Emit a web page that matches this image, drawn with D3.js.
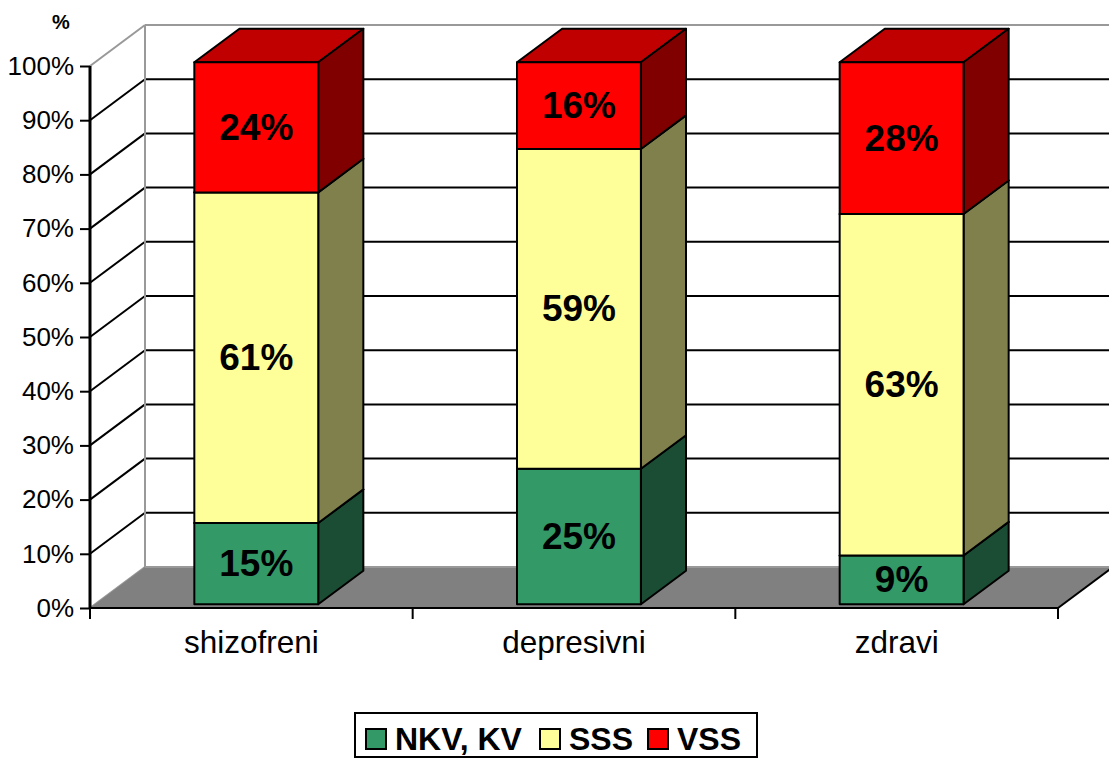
<!DOCTYPE html>
<html>
<head>
<meta charset="utf-8">
<script src="https://cdn.jsdelivr.net/npm/d3@7"></script>
<style>
  html, body { margin: 0; padding: 0; background: #ffffff; }
  svg { display: block; }
  text { font-family: "Liberation Sans", Arial, sans-serif; }
</style>
</head>
<body>
<svg id="chart" width="1109" height="762"></svg>
<script>
// ---- data ----
const categories = ["shizofreni", "depresivni", "zdravi"];
const seriesNames = ["NKV, KV", "SSS", "VSS"];
const nkvKv = [15, 25, 9];
const sss = [61, 59, 63];
const vss = [24, 16, 28];
const yTicks = [0, 10, 20, 30, 40, 50, 60, 70, 80, 90, 100];
const yTitle = "%";

// ---- styles ----
const frontColors = ["#339966", "#ffff99", "#ff0000"];
const sideColors  = ["#1a4d33", "#80804d", "#800000"];
const topColors   = ["#267350", "#bfbf73", "#c00000"];

const svg = d3.select("#chart");

// 3D geometry
const depthX = 55, depthY = -41;          // full depth of the chart box
const barZ0 = 0.09, barZ1 = 0.91;          // bar position within depth

const x = d3.scaleBand().domain(categories).range([90, 1058])
  .paddingInner(0.616).paddingOuter(0.308);
const y = d3.scaleLinear().domain([0, 100]).range([608, 66]);

const xLeft = 90, xRight = 1058;

// back wall
svg.append("rect")
  .attr("x", xLeft + depthX).attr("y", y(100) + depthY)
  .attr("width", xRight - xLeft).attr("height", y(0) - y(100))
  .attr("fill", "#ffffff");

// gridlines (side wall diagonals + back wall horizontals)
yTicks.forEach(t => {
  const isEdge = (t === 0 || t === 100);
  const col = isEdge ? "#999999" : "#000000";
  if (t !== 0) {
    svg.append("line")
      .attr("x1", xLeft + depthX).attr("x2", xRight + depthX)
      .attr("y1", y(t) + depthY).attr("y2", y(t) + depthY)
      .attr("stroke", col).attr("stroke-width", 2);
  }
  svg.append("line")
    .attr("x1", xLeft).attr("y1", y(t))
    .attr("x2", xLeft + depthX).attr("y2", y(t) + depthY)
    .attr("stroke", col).attr("stroke-width", 2);
});
// back wall left edge
svg.append("line")
  .attr("x1", xLeft + depthX).attr("x2", xLeft + depthX)
  .attr("y1", y(100) + depthY).attr("y2", y(0) + depthY)
  .attr("stroke", "#999999").attr("stroke-width", 2);

// floor
const floorPts = [[xLeft, y(0)], [xRight, y(0)], [xRight + depthX, y(0) + depthY], [xLeft + depthX, y(0) + depthY]];
svg.append("polygon")
  .attr("points", floorPts.map(p => p.join(",")).join(" "))
  .attr("fill", "#808080");
svg.append("line")
  .attr("x1", xLeft + depthX).attr("y1", y(0) + depthY)
  .attr("x2", xRight + depthX).attr("y2", y(0) + depthY)
  .attr("stroke", "#999999").attr("stroke-width", 2);
svg.append("line")
  .attr("x1", xRight).attr("y1", y(0))
  .attr("x2", xRight + depthX).attr("y2", y(0) + depthY)
  .attr("stroke", "#000000").attr("stroke-width", 2);

// bars
const series = [nkvKv, sss, vss];
const bw = x.bandwidth();
const ddx = depthX * (barZ1 - barZ0), ddy = depthY * (barZ1 - barZ0);
const ox = depthX * barZ0, oy = depthY * barZ0;
const barsG = svg.append("g");
const labelsG = svg.append("g");

categories.forEach((cat, i) => {
  let cum = 0;
  series.forEach((vals, s) => {
    const v0 = cum, v1 = cum + vals[i];
    cum = v1;
    const x0 = x(cat) + ox, x1 = x0 + bw;
    const yb = y(v0) + oy, yt = y(v1) + oy;
    const g = barsG.append("g")
      .attr("stroke", "#000000").attr("stroke-width", 2).attr("stroke-linejoin", "round");
    g.append("polygon")
      .attr("points", [[x0, yt], [x1, yt], [x1 + ddx, yt + ddy], [x0 + ddx, yt + ddy]].map(p => p.join(",")).join(" "))
      .attr("fill", topColors[s]);
    g.append("polygon")
      .attr("points", [[x1, yb], [x1 + ddx, yb + ddy], [x1 + ddx, yt + ddy], [x1, yt]].map(p => p.join(",")).join(" "))
      .attr("fill", sideColors[s]);
    g.append("rect")
      .attr("x", x0).attr("y", yt).attr("width", bw).attr("height", yb - yt)
      .attr("fill", frontColors[s]);
    labelsG.append("text")
      .attr("x", x0 + bw / 2).attr("y", (yt + yb) / 2)
      .attr("text-anchor", "middle").attr("dominant-baseline", "central")
      .attr("font-size", 37).attr("font-weight", "bold").attr("fill", "#000000")
      .text(vals[i] + "%");
  });
});

// y axis
const yAxisG = svg.append("g").attr("transform", `translate(${xLeft},0)`)
  .call(d3.axisLeft(y).tickValues(yTicks).tickFormat(d => d + "%").tickSize(10).tickPadding(6));
yAxisG.select(".domain").attr("stroke", "#000").attr("stroke-width", 3).attr("d", `M0,${y(100)}V${y(0)}`);
yAxisG.selectAll(".tick line").attr("stroke", "#000").attr("stroke-width", 2);
yAxisG.selectAll(".tick text").attr("font-size", 26).attr("fill", "#000")
  .attr("font-family", "Liberation Sans, Arial, sans-serif");

// x axis
const xAxisG = svg.append("g").attr("transform", `translate(0,${y(0)})`)
  .call(d3.axisBottom(x).tickSize(0).tickPadding(21));
xAxisG.select(".domain").attr("stroke", "#000").attr("stroke-width", 2).attr("d", `M${xLeft},0H${xRight}`);
xAxisG.selectAll(".tick text").attr("font-size", 31.5).attr("fill", "#000")
  .attr("font-family", "Liberation Sans, Arial, sans-serif")
  .attr("dy", "0.75em");
// category separator ticks
const sepPos = [xLeft].concat(categories.map(c => x(c) + bw + x.step() * x.paddingInner() / 2));
sepPos[sepPos.length - 1] = xRight;
sepPos.forEach(px => {
  svg.append("line").attr("x1", px).attr("x2", px).attr("y1", y(0)).attr("y2", y(0) + 11)
    .attr("stroke", "#000").attr("stroke-width", 2);
});

// axis title
svg.append("text").attr("x", 61).attr("y", 29).attr("text-anchor", "middle")
  .attr("font-size", 20).attr("font-weight", "bold").text(yTitle);

// legend
const lg = svg.append("g");
lg.append("rect").attr("x", 355).attr("y", 713).attr("width", 402).attr("height", 44)
  .attr("fill", "#ffffff").attr("stroke", "#000").attr("stroke-width", 2);
const legendX = [366, 540, 648];
seriesNames.forEach((name, s) => {
  lg.append("rect").attr("x", legendX[s]).attr("y", 729).attr("width", 20).attr("height", 20)
    .attr("fill", frontColors[s]).attr("stroke", "#000").attr("stroke-width", 2);
  lg.append("text").attr("x", legendX[s] + 29).attr("y", 750)
    .attr("font-size", 32).attr("font-weight", "bold").text(name);
});
</script>
</body>
</html>
